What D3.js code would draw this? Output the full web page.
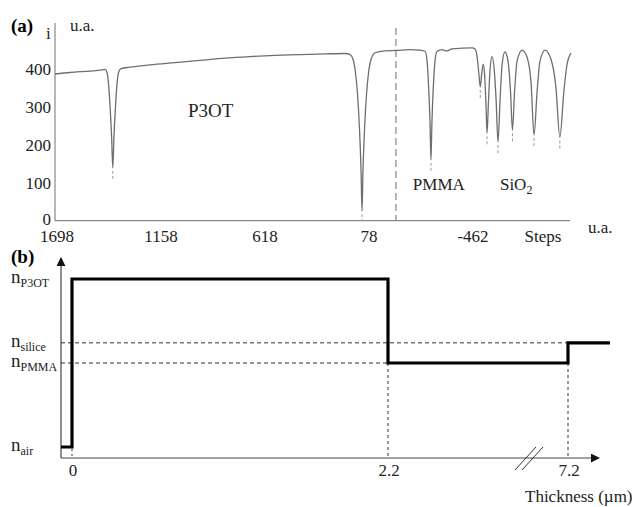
<!DOCTYPE html>
<html>
<head>
<meta charset="utf-8">
<script src="https://cdn.jsdelivr.net/npm/d3@7/dist/d3.min.js"></script>
<style>
  html, body { margin: 0; padding: 0; background: #fff; }
  svg, svg text { font-family: "Liberation Serif", "DejaVu Serif", "Times New Roman", serif; }
</style>
</head>
<body>
<svg id="chart" width="637" height="507"></svg>
<script>
// ---------- Panel (a): reflectivity spectrum ----------
const spectrumSteps = [1698, 1620, 1542, 1464, 1438,
  1428, 1420, 1412, 1404, 1398, 1392, 1384, 1376, 1368, 1355,
  1309, 1205, 1075, 945, 815, 686, 556, 426, 296, 192,
  166, 151, 138, 127, 117, 109, 104, 99, 91, 81, 70, 57, 36, -15, -72, -145, -197,
  -223, -234, -241, -249, -254, -259, -267, -275, -285, -311, -337, -363, -415, -467, -483,
  -494, -502, -510, -517, -525, -533, -540, -545, -553, -561, -571, -582, -592, -602, -613, -623,
  -638, -654, -667, -677, -688, -701, -727, -753, -774, -789, -805, -820, -846, -877, -903, -923,
  -944, -960, -981];
const spectrumValues = [386, 390, 393, 396, 398,
  390, 360, 300, 220, 139, 220, 300, 360, 390, 400,
  404, 410, 416, 422, 428, 432, 435, 437, 439, 440,
  437, 425, 390, 330, 240, 130, 25, 130, 240, 330, 390, 425, 442, 447, 448, 450, 449,
  446, 420, 360, 260, 160, 260, 360, 420, 445, 450, 447, 452, 454, 455, 452,
  430, 390, 352, 385, 412, 380, 300, 230, 320, 400, 432, 400, 320, 207, 320, 410,
  444, 420, 340, 238, 340, 420, 449, 430, 360, 225, 340, 420, 449, 425, 350, 219,
  340, 410, 441];
const dipSteps = [1398, 104, -254, -510, -545, -602, -677, -789, -923];
const dipValues = [139, 25, 160, 352, 230, 207, 238, 225, 219];
const stepTicks = [1698, 1158, 618, 78, -462];
const intensityTicks = [0, 100, 200, 300, 400];
const interfaceStep = -72;
const layerLabels = [
  {text: "P3OT", step: 1008, value: 289, size: 19},
  {text: "PMMA", step: -160, value: 97, size: 17},
  {text: "SiO", sub: "2", step: -612, value: 97, size: 17}
];

// ---------- Panel (b): index profile ----------
const thickness = [-0.08, 0, 0, 2.2, 2.2, 7.2, 7.2, 8.4];
const indexValues = [1.0, 1.0, 2.0, 2.0, 1.5, 1.5, 1.62, 1.62];
const thicknessTicks = [0, 2.2, 7.2];
const indexLevels = [
  {name: "P3OT", value: 2.0},
  {name: "silice", value: 1.62},
  {name: "PMMA", value: 1.5},
  {name: "air", value: 1.0}
];

const FONT = "'Liberation Serif', 'DejaVu Serif', 'Times New Roman', serif";
const svg = d3.select("#chart").attr("font-family", FONT);
const axisColor = "#888";
const txt = (x, y, s, size) => svg.append("text").attr("x", x).attr("y", y)
  .attr("font-family", FONT).attr("font-size", size || 17).attr("fill", "#222").text(s);

// ===== Panel (a) =====
const xA = d3.scaleLinear().domain([1698, -981]).range([55, 571]);
const yA = d3.scaleLinear().domain([0, 400]).range([220.7, 68.7]);

svg.append("line").attr("x1", 55).attr("x2", 55).attr("y1", 23).attr("y2", yA(0))
  .attr("stroke", axisColor).attr("stroke-width", 1.2);
svg.append("line").attr("x1", 55).attr("x2", 570).attr("y1", yA(0)).attr("y2", yA(0))
  .attr("stroke", axisColor).attr("stroke-width", 1.2);

svg.selectAll(".ytA").data(intensityTicks).enter().append("text")
  .attr("x", 51).attr("y", d => yA(d) + (d === 0 ? -2 : 0)).attr("dy", "0.35em")
  .attr("text-anchor", "end").attr("font-family", FONT).attr("font-size", 17).attr("fill", "#222").text(d => d);

svg.selectAll(".xtA").data(stepTicks).enter().append("text")
  .attr("x", d => xA(d) + 2).attr("y", 242)
  .attr("text-anchor", "middle").attr("font-family", FONT).attr("font-size", 17).attr("fill", "#222").text(d => d);

txt(543, 242, "Steps").attr("text-anchor", "middle");
txt(588, 233, "u.a.");
txt(70, 31, "u.a.");
txt(46, 39, "i");
txt(11, 32, "(a)", 19).attr("font-weight", "bold").attr("fill", "#000");

svg.append("line").attr("x1", xA(interfaceStep)).attr("x2", xA(interfaceStep))
  .attr("y1", 28).attr("y2", yA(0))
  .attr("stroke", "#888").attr("stroke-width", 1.2).attr("stroke-dasharray", "7,4");

const pts = spectrumSteps.map((s, i) => [s, spectrumValues[i]]);
svg.append("path").datum(pts)
  .attr("d", d3.line().x(d => xA(d[0])).y(d => yA(d[1])).curve(d3.curveMonotoneX))
  .attr("fill", "none").attr("stroke", "#6e6e6e").attr("stroke-width", 1.3);

svg.selectAll(".dip").data(dipSteps).enter().append("line")
  .attr("x1", d => xA(d)).attr("x2", d => xA(d))
  .attr("y1", (d, i) => Math.min(yA(dipValues[i]) + 3, yA(0) - 1))
  .attr("y2", (d, i) => Math.min(yA(dipValues[i]) + 12, yA(0)))
  .attr("stroke", "#999").attr("stroke-width", 1).attr("stroke-dasharray", "3,2");

layerLabels.forEach(l => {
  const t = txt(xA(l.step), yA(l.value) + 6, l.text, l.size);
  if (l.sub) t.append("tspan").attr("font-size", 12).attr("dy", 4).text(l.sub);
});

// ===== Panel (b) =====
const xB = d3.scaleLinear().domain([-0.08, 0, 2.2, 7.2, 8.4]).range([61, 72, 388, 568, 610]);
const yB = d3.scaleLinear().domain([1.0, 2.0]).range([447, 279]);
const baseY = 458;

svg.append("defs").append("marker").attr("id", "arr").attr("viewBox", "0 0 10 10")
  .attr("refX", 9).attr("refY", 5).attr("markerWidth", 9).attr("markerHeight", 9)
  .attr("markerUnits", "userSpaceOnUse").attr("orient", "auto")
  .append("path").attr("d", "M0,0 L10,5 L0,10 z").attr("fill", "#111");

svg.append("line").attr("x1", 61).attr("x2", 61).attr("y1", baseY).attr("y2", 258)
  .attr("stroke", "#444").attr("stroke-width", 1.2).attr("marker-end", "url(#arr)");
svg.append("line").attr("x1", 61).attr("x2", 599).attr("y1", baseY).attr("y2", baseY)
  .attr("stroke", "#444").attr("stroke-width", 1.2).attr("marker-end", "url(#arr)");

[0, 7].forEach(o => {
  svg.append("line").attr("x1", 515 + o).attr("y1", 470).attr("x2", 536 + o).attr("y2", 447)
    .attr("stroke", "#333").attr("stroke-width", 1);
});

const lv = Object.fromEntries(indexLevels.map(d => [d.name, d.value]));
const dashed = (x1, y1, x2, y2, da) => svg.append("line").attr("x1", x1).attr("y1", y1)
  .attr("x2", x2).attr("y2", y2).attr("stroke", "#333").attr("stroke-width", 1).attr("stroke-dasharray", da);
dashed(61, yB(lv.silice), xB(7.2), yB(lv.silice), "4,3");
dashed(61, yB(lv.PMMA), xB(2.2), yB(lv.PMMA), "4,3");
dashed(xB(2.2), yB(lv.PMMA), xB(2.2), baseY, "3,3");
dashed(xB(7.2), yB(lv.PMMA), xB(7.2), baseY, "3,3");
dashed(xB(0), yB(lv.air) + 2, xB(0), baseY, "2,3");

const prof = thickness.map((t, i) => [t, indexValues[i]]);
svg.append("path").datum(prof)
  .attr("d", d3.line().x(d => xB(d[0])).y(d => yB(d[1])))
  .attr("fill", "none").attr("stroke", "#000").attr("stroke-width", 3.2)
  .attr("stroke-linejoin", "miter");

svg.selectAll(".xtB").data(thicknessTicks).enter().append("text")
  .attr("x", d => xB(d) + 1).attr("y", 476).attr("text-anchor", "middle")
  .attr("font-family", FONT).attr("font-size", 17).attr("fill", "#222").text(d => d);
txt(525, 502, "Thickness (\u00b5m)");

indexLevels.forEach(l => {
  const t = txt(11, yB(l.value) + 4, "n", 19);
  t.append("tspan").attr("font-size", 12).attr("dy", 4).text(l.name);
});
txt(11, 263, "(b)", 19).attr("font-weight", "bold").attr("fill", "#000");
</script>
</body>
</html>
